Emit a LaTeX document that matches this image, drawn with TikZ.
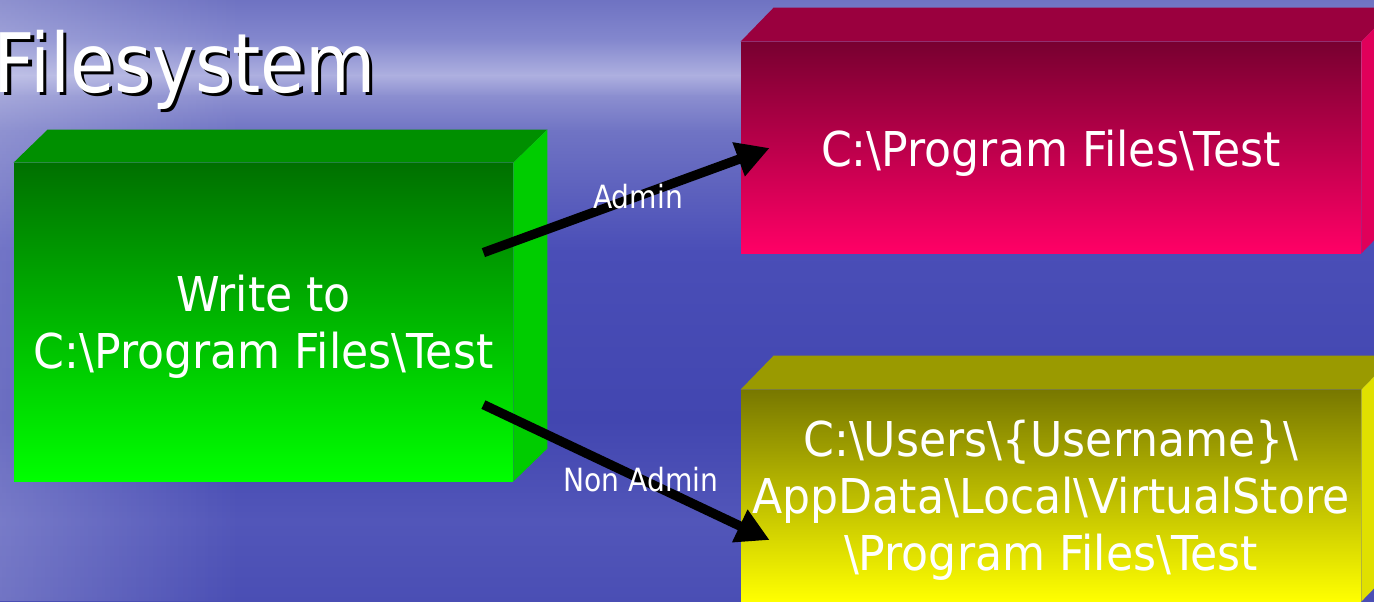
\documentclass[tikz,border=0pt]{standalone}
\usepackage{fontspec}
\newfontfamily\tah[FakeStretch=0.92]{DejaVu Sans}
\newfontfamily\tahT[FakeStretch=0.88]{DejaVu Sans}
\usetikzlibrary{arrows.meta,calc,fadings}
\tikzfading[name=fadeR, left color=transparent!0, right color=transparent!100]
\definecolor{bgA}{HTML}{6E72C2}
\definecolor{bgB}{HTML}{8488CE}
\definecolor{bgC}{HTML}{AEB0E0}
\definecolor{bgD}{HTML}{8C8FD0}
\definecolor{bgE}{HTML}{7074C4}
\definecolor{bgF}{HTML}{4A4EB7}
\definecolor{bgG}{HTML}{4246B0}
\definecolor{bgH}{HTML}{5256B9}
\definecolor{bgI}{HTML}{4A4EB4}
\definecolor{gTop}{HTML}{007000}
\definecolor{gBot}{HTML}{00FF00}
\definecolor{gLid}{HTML}{008F00}
\definecolor{gSide}{HTML}{00CC00}
\definecolor{rTop}{HTML}{780030}
\definecolor{rBot}{HTML}{FF0066}
\definecolor{rLid}{HTML}{9A003E}
\definecolor{rSide}{HTML}{E0005A}
\definecolor{yTop}{HTML}{787800}
\definecolor{yBot}{HTML}{FFFF00}
\definecolor{yLid}{HTML}{9A9A00}
\definecolor{ySide}{HTML}{E0E000}
\tikzset{
  front/.style={inner sep=0pt},
  txt/.style={inner sep=0pt, text=white, align=center,
    font=\tah\fontsize{24}{28.5}\selectfont},
  lab/.style={inner sep=0pt, text=white, font=\tahT\fontsize{16}{18}\selectfont},
  conn/.style={line width=4.7pt, black, -{Triangle[length=16.5pt,width=17pt]}},
  ttl/.style={inner sep=0pt, anchor=base west, font=\tahT\fontsize{41}{41}\selectfont},
}
\begin{document}
\begin{tikzpicture}[x=0.5pt,y=-0.5pt]
\useasboundingbox (0,0) rectangle (1374,601);
\clip (0,0) rectangle (1374,601);
% background
\shade[top color=bgA, bottom color=bgB] (0,-1) rectangle (1374,41);
\shade[top color=bgB, bottom color=bgC] (0,40) rectangle (1374,76);
\shade[top color=bgC, bottom color=bgD] (0,75) rectangle (1374,96);
\shade[top color=bgD, bottom color=bgE] (0,95) rectangle (1374,131);
\shade[top color=bgE, bottom color=bgF] (0,130) rectangle (1374,251);
\shade[top color=bgF, bottom color=bgG] (0,250) rectangle (1374,421);
\shade[top color=bgG, bottom color=bgH] (0,420) rectangle (1374,521);
\shade[top color=bgH, bottom color=bgI] (0,520) rectangle (1374,602);
\fill[white, fill opacity=0.22, path fading=fadeR] (0,0) rectangle (240,601);
% title
\node[ttl, text=black] (titleshadow) at (-3,95.5) {Filesystem};
\node[ttl, text=white] (title) at (-6.5,92) {Filesystem};
% green box
\node[front, minimum width=249.5pt, minimum height=159pt, top color=gTop, bottom color=gBot]
  (gfront) at (263.5,322) {};
\fill[gLid] (gfront.north west) -- ++(34,-33) -- ($(gfront.north east)+(34,-33)$) -- (gfront.north east) -- cycle;
\fill[gSide] (gfront.north east) -- ++(34,-33) -- ($(gfront.south east)+(34,-33)$) -- (gfront.south east) -- cycle;
\node[txt] (gtext) at ($(gfront.center)+(0,5)$) {Write to\\C:\textbackslash Program Files\textbackslash Test};
% red box
\node[front, minimum width=310pt, minimum height=105.5pt, top color=rTop, bottom color=rBot]
  (rfront) at (1051,147.5) {};
\fill[rLid] (rfront.north west) -- ++(33,-34) -- ($(rfront.north east)+(33,-34)$) -- (rfront.north east) -- cycle;
\fill[rSide] (rfront.north east) -- ++(33,-34) -- ($(rfront.south east)+(33,-34)$) -- (rfront.south east) -- cycle;
\node[txt] (rtext) at ($(rfront.center)+(0,5.5)$) {C:\textbackslash Program Files\textbackslash Test};
% yellow box
\node[front, minimum width=310pt, minimum height=105.5pt, top color=yTop, bottom color=yBot]
  (yfront) at (1051,495.5) {};
\fill[yLid] (yfront.north west) -- ++(33,-34) -- ($(yfront.north east)+(33,-34)$) -- (yfront.north east) -- cycle;
\fill[ySide] (yfront.north east) -- ++(33,-34) -- ($(yfront.south east)+(33,-34)$) -- (yfront.south east) -- cycle;
\node[txt] (ytext) at ($(yfront.center)+(0,5)$) {C:\textbackslash Users\textbackslash\{Username\}\textbackslash\\AppData\textbackslash Local\textbackslash VirtualStore\\\textbackslash Program Files\textbackslash Test};
% connectors
\draw[conn] ($(gfront.north east)+(-30,90)$) -- node[lab, pos=0.54] (labadmin) {Admin} ($(rfront.west)+(29,0.5)$);
\draw[conn] ($(gfront.north east)+(-30,242)$) -- node[lab, pos=0.55] (labnon) {Non Admin} ($(yfront.west)+(29,44.5)$);
\end{tikzpicture}
\end{document}
